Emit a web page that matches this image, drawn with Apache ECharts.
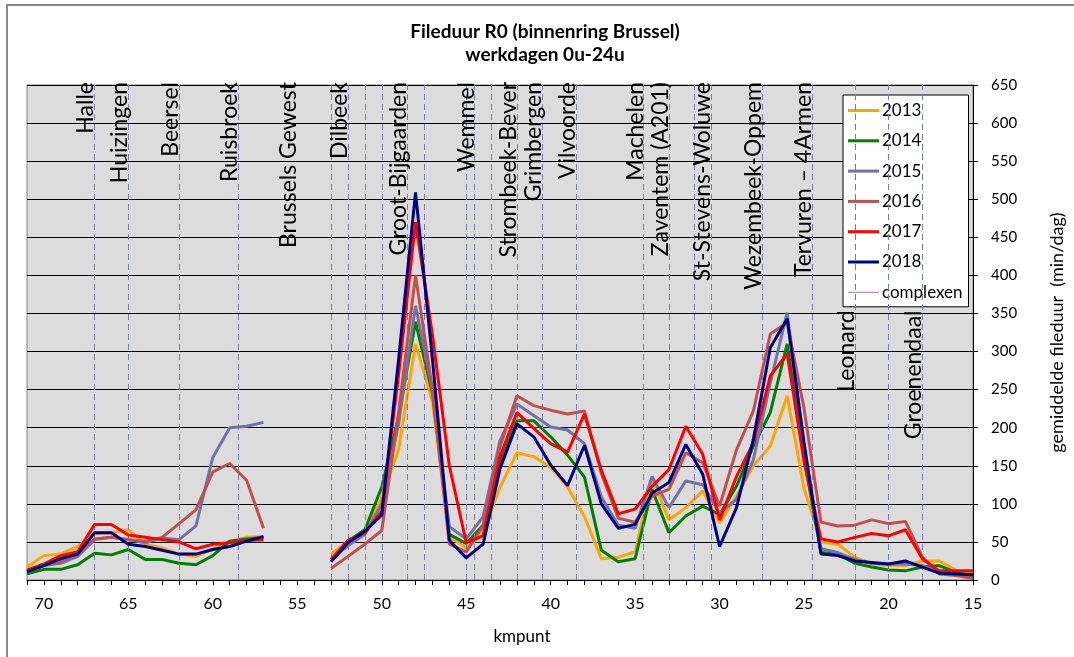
<!DOCTYPE html>
<html>
<head>
<meta charset="utf-8">
<script src="https://cdn.jsdelivr.net/npm/echarts@6/dist/echarts.min.js"></script>
<style>
html,body{margin:0;padding:0;background:#fff;}
#chart{width:1074px;height:657px;}
</style>
</head>
<body>
<div id="chart"></div>
<script>
// kilometre points (x), 71 down to 15; 56-54 have no data
const km = [71,70,69,68,67,66,65,64,63,62,61,60,59,58,57,56,55,54,53,52,51,50,49,48,47,46,45,44,43,42,41,40,39,38,37,36,35,34,33,32,31,30,29,28,27,26,25,24,23,22,21,20,19,18,17,16,15];
const y2013 = [17,32,34,44,61,62,66,47,42,34,31,41,51,56,57,null,null,null,34,51,62,108,172,310,235,57,42,61,122,167,162,148,122,83,28,30,37,134,79,95,117,75,110,150,176,242,120,50,47,30,21,19,19,25,25,13,8];
const y2014 = [8,14,14,20,35,33,40,27,27,22,20,32,51,54,56,null,null,null,27,51,66,122,215,339,245,60,48,72,153,209,209,188,164,135,39,24,28,119,62,84,97,86,123,176,220,310,160,36,34,22,17,13,12,17,19,10,5];
const y2015 = [11,19,22,31,53,56,53,49,55,53,71,161,200,202,207,null,null,null,27,45,60,100,205,360,250,70,54,83,183,231,216,201,197,179,109,72,68,136,95,130,125,88,106,158,259,351,175,41,36,27,22,21,21,19,10,8,6];
const y2016 = [11,20,25,33,54,56,53,51,56,74,92,142,153,131,68,null,null,null,15,31,47,65,220,400,250,47,37,71,175,242,229,223,218,222,140,81,76,110,119,167,154,97,171,222,323,338,225,76,71,72,79,74,77,30,8,6,2];
const y2017 = [13,21,32,37,73,73,59,56,53,50,41,47,49,52,53,null,null,null,27,52,62,90,270,470,322,150,49,58,162,220,199,179,168,218,144,87,93,123,145,202,165,79,136,180,268,297,155,54,50,56,61,58,66,28,12,12,12];
const y2018 = [11,19,28,34,62,62,47,44,39,34,34,40,44,51,57,null,null,null,24,49,64,85,290,509,290,52,29,47,146,205,188,151,124,177,100,68,73,114,128,178,139,44,95,185,305,343,180,34,32,25,23,21,25,17,9,8,7];
const yComplexen = [];

const seriesNames = ['2013','2014','2015','2016','2017','2018','complexen'];
const seriesColors = ['#FFA500','#008000','#7272A8','#C0504D','#FF0000','#000080','#B070C0'];

// location markers along the ring (km), labelled ones
const places = ['Halle','Huizingen','Beersel','Ruisbroek','Brussels Gewest','Dilbeek','Groot-Bijgaarden','Wemmel','Strombeek-Bever','Grimbergen','Vilvoorde','Machelen','Zaventem (A201)','St-Stevens-Woluwe','Wezembeek-Oppem','Tervuren \u2013 4Armen','Leonard','Groenendaal'];
const placeKm = [67,65,62,58.5,55,52,48.5,44.5,42,40.5,38.5,34.5,33,30.5,27.5,24.5,22,18];
const placeHasLine = [1,1,1,1,0,1,1,1,1,1,1,1,1,1,1,1,1,1];
const lowLabels = ['Leonard','Groenendaal'];
const lowLabelTop = 350;
// unlabelled complex boundaries (km)
const extraLineKm = [53,51,50,47.5,45,43.5,31.5,20];

const yTicks = {min:0, max:650, step:50};
const xTicks = {min:15, max:71, step:5};

const FONT = 'Lato, "Open Sans", sans-serif';
const dashColor = '#7B7BA8';
const noLine = {color:'rgba(0,0,0,0)'};

const markData = [];
places.forEach((p,i)=>{
  const low = lowLabels.indexOf(p) >= 0;
  if (placeHasLine[i] && low) {
    markData.push({xAxis: placeKm[i], label:{show:false}});
  }
  const lbl = {show:true, formatter:p, position:'insideEndTop', color:'#000', fontSize:23, fontFamily:FONT, distance:-3};
  if (low) {
    markData.push([{coord:[placeKm[i],0], lineStyle:noLine, label:lbl},{coord:[placeKm[i],lowLabelTop]}]);
  } else {
    markData.push({xAxis: placeKm[i], label:lbl, lineStyle: placeHasLine[i] ? {} : noLine});
  }
});
extraLineKm.forEach(k=>markData.push({xAxis:k, label:{show:false}}));

const allY = [y2013,y2014,y2015,y2016,y2017,y2018,yComplexen];
const series = seriesNames.map((n,i)=>({
  name:n, type:'line', symbol:'none', connectNulls:false,
  data: allY[i].length ? km.map((k,j)=>[k, allY[i][j]]) : [],
  lineStyle:{color:seriesColors[i], width: n==='complexen'?1.5:3},
  itemStyle:{color:seriesColors[i]},
  z: 3 + i,
  animation:false
}));
series.push({
  name:'markers', type:'line', data:[], symbol:'none', silent:true,
  markLine:{symbol:['none','none'], silent:true, animation:false,
    lineStyle:{type:[6,4], color:dashColor, width:1}, data:markData}
});

const legendData = seriesNames.map(n=>({name:n, icon: n==='complexen' ? 'path://M0,0 H30 V1 H0 Z' : 'rect'}));

const chart = echarts.init(document.getElementById('chart'), null, {renderer:'canvas'});
chart.setOption({
  animation:false,
  backgroundColor:'#fff',
  textStyle:{fontFamily:FONT},
  title:{
    text:'Fileduur R0 (binnenring Brussel)\nwerkdagen 0u-24u',
    left:540, textAlign:'center', top:15,
    textStyle:{fontSize:19, fontWeight:'bold', color:'#000', lineHeight:23, fontFamily:FONT}
  },
  graphic:[{type:'rect', shape:{x:7,y:5,width:1100,height:700}, style:{fill:'none', stroke:'#888', lineWidth:2}, silent:true, z:-1}],
  legend:{
    data:legendData, orient:'vertical', left:843, top:95,
    backgroundColor:'#fff', borderColor:'#000', borderWidth:1, padding:[7,6,6,5],
    itemGap:13.3, itemWidth:31, itemHeight:3,
    textStyle:{fontSize:17, lineHeight:17, color:'#000', fontFamily:FONT, padding:[0,0,0,-2]},
    selectedMode:false
  },
  grid:{left:27, right:94, top:85, bottom:77, show:true, backgroundColor:'#DCDCDC', borderColor:'#808080', borderWidth:1},
  xAxis:{
    type:'value', inverse:true, min:xTicks.min, max:xTicks.max, interval:xTicks.step,
    name:'kmpunt', nameLocation:'middle', nameGap:48,
    nameTextStyle:{fontSize:17, color:'#000', fontFamily:FONT, padding:[0,0,0,44]},
    axisLine:{show:true, lineStyle:{color:'#000', width:1}},
    axisTick:{show:true, length:5, lineStyle:{color:'#000'}},
    minorTick:{show:true, splitNumber:5, length:5, lineStyle:{color:'#000'}},
    axisLabel:{fontSize:16, color:'#000', margin:16, showMaxLabel:false, fontFamily:FONT},
    splitLine:{show:false}
  },
  yAxis:{
    type:'value', position:'right', min:yTicks.min, max:yTicks.max, interval:yTicks.step,
    name:'gemiddelde fileduur  (min/dag)', nameLocation:'middle', nameRotate:90, nameGap:75,
    nameTextStyle:{fontSize:18, color:'#000', fontFamily:FONT},
    axisLine:{show:true, lineStyle:{color:'#000', width:1}},
    axisTick:{show:true, length:5, lineStyle:{color:'#000'}},
    axisLabel:{fontSize:15, color:'#000', margin:18, fontFamily:FONT},
    splitLine:{show:true, lineStyle:{color:'#000', width:1}}
  },
  series:series
});
</script>
</body>
</html>
